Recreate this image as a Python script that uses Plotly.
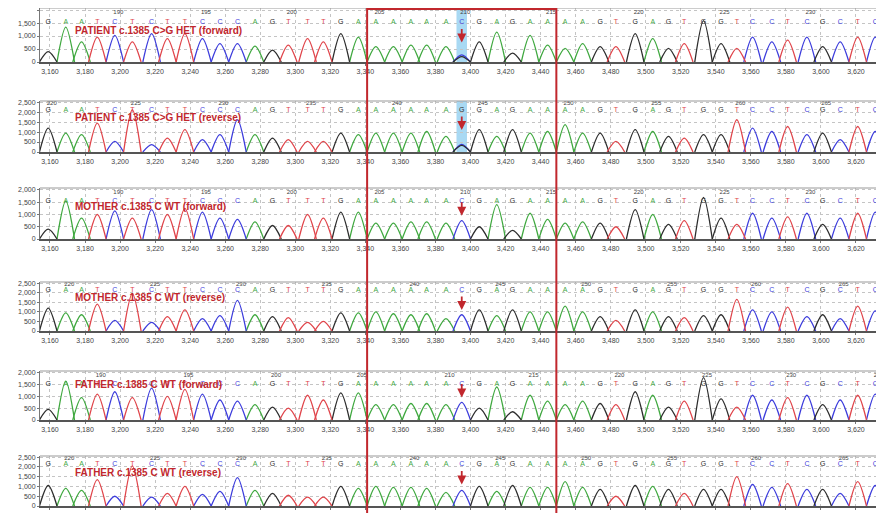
import plotly.graph_objects as go

# ---------------- data ----------------
SEQ = "GAATCTCTTCCCAGTTTGAAAAAACGAGAAAAGTGAGTGGTCCTCGCTC"
POS = [3159, 3169, 3178, 3187, 3197, 3207, 3218, 3227, 3237, 3247, 3257, 3267, 3277, 3287, 3296,
       3307, 3316, 3326, 3336, 3346, 3356, 3366, 3375, 3386, 3395, 3405, 3415, 3424, 3434, 3444,
       3454, 3464, 3474, 3483, 3494, 3504, 3513, 3522, 3533, 3543, 3552, 3561, 3572, 3581, 3592,
       3601, 3611, 3621, 3631]

PATIENT_FWD = [400, 1340, 775, 960, 1025, 775, 1090, 900, 1090, 900, 710, 710, 610, 460, 650,
               900, 775, 1090, 960, 590, 590, 650, 650, 590, 275, 775, 1150, 340, 1025, 650,
               525, 710, 590, 590, 1090, 900, 525, 710, 1590, 710, 525, 960, 775, 840, 960,
               590, 775, 960, 960]
PATIENT_REV = [1200, 950, 870, 1450, 530, 2120, 370, 700, 1120, 620, 870, 1620, 870, 700, 620,
               530, 530, 950, 870, 950, 950, 950, 1030, 780, 380, 1120, 780, 1120, 950, 1030,
               1370, 950, 950, 530, 1120, 1030, 780, 700, 870, 870, 1620, 1200, 1030, 1280, 870,
               950, 620, 1280, 1030]
MOTHER_FWD = [400, 1550, 850, 1000, 1150, 850, 1200, 1000, 1250, 1100, 850, 800, 700, 550, 550,
              1000, 850, 1100, 1100, 650, 650, 700, 700, 650, 750, 500, 1400, 350, 1050, 800,
              650, 700, 650, 500, 1200, 1000, 600, 750, 1700, 850, 600, 1050, 850, 900, 1050,
              600, 850, 1050, 1100]
MOTHER_REV = [1200, 950, 850, 1400, 550, 1950, 450, 750, 1100, 650, 800, 1600, 850, 750, 700,
              450, 500, 950, 950, 1000, 900, 850, 900, 650, 850, 1100, 800, 1100, 1000, 1000,
              1300, 1000, 750, 550, 1100, 1000, 750, 700, 800, 850, 1650, 1100, 1000, 1250, 750,
              850, 650, 1300, 1050]
FATHER_FWD = [450, 1650, 950, 1100, 1200, 950, 1350, 1000, 1300, 1100, 850, 800, 650, 550, 500,
              1050, 850, 1150, 1150, 650, 650, 700, 700, 650, 750, 500, 1400, 350, 1050, 800,
              650, 800, 700, 650, 1200, 1050, 550, 800, 1800, 900, 550, 1050, 850, 950, 1050,
              650, 850, 1050, 1100]
FATHER_REV = [1050, 900, 800, 1350, 500, 2050, 450, 650, 1000, 600, 750, 1450, 800, 650, 550,
              450, 450, 1000, 900, 1000, 950, 950, 900, 700, 800, 1000, 750, 1050, 950, 950,
              1250, 950, 850, 500, 1050, 1000, 850, 650, 850, 850, 1500, 1100, 950, 1150, 850,
              850, 650, 1250, 1050]

# heterozygous secondary G peak at the variant position (patient only)
SECOND_G = [210, 330, 0, 0, 0, 0]
VARIANT_INDEX = 24
CALL_AT_VARIANT = ["C", "G", "C", "C", "C", "C"]
FIRST_BASE_NUMBER = [186, 220, 186, 219, 187, 219]
TITLES = ["PATIENT c.1385 C>G HET (forward)", "PATIENT c.1385 C>G HET (reverse)",
          "MOTHER c.1385 C WT (forward)", "MOTHER c.1385 C WT (reverse)",
          "FATHER c.1385 C WT (forward)", "FATHER c.1385 C WT (reverse)"]
HEIGHTS = [PATIENT_FWD, PATIENT_REV, MOTHER_FWD, MOTHER_REV, FATHER_FWD, FATHER_REV]
X_TICKS = list(range(3160, 3621, 20))

# ---------------- style / layout ----------------
W, H = 884, 513
OFF = 8  # page body margin offset compensation
COLORS = {"A": "#3fa83f", "C": "#3c3cdc", "G": "#2d2d2d", "T": "#e0444a"}
RED = "#c1272d"
HALF = 5.0
PANEL_PX = [(8, 62), (101, 152), (188, 239), (282, 331), (371, 420), (456, 506)]
TITLE_PX = [31, 117, 207, 297, 384, 472]
ARROW_TIP = [750, 1100, 950, 1100, 950, 1100]
LEFT_PX = 40
XR = [3154.3, 3636 + OFF / 1.752]

fig = go.Figure()
layout = dict(width=W, height=H, margin=dict(l=0, r=0, t=0, b=0),
              paper_bgcolor="white", plot_bgcolor="white", showlegend=False,
              shapes=[], annotations=[])

def py(p):
    return 1 - (p - OFF) / H

for i in range(6):
    n = "" if i == 0 else str(i + 1)
    xa, ya = "x" + n, "y" + n
    fwd = (i % 2 == 0)
    top, bot = PANEL_PX[i]
    ymax = 2080 if fwd else 2560
    yt = [0, 500, 1000, 1500, 2000] if fwd else [0, 500, 1000, 1500, 2000, 2500]
    layout["xaxis" + n] = dict(domain=[(LEFT_PX - OFF) / W, 1], range=XR, anchor=ya,
                               tickvals=X_TICKS, ticktext=[f"{v:,}" for v in X_TICKS],
                               tickfont=dict(size=7, color="#444", family="Liberation Sans"),
                               ticks="outside", ticklen=2, tickcolor="#777",
                               showline=True, linecolor="#555", linewidth=1.6,
                               showgrid=True, gridcolor="#c4c4c4", griddash="dot", gridwidth=1,
                               zeroline=False, fixedrange=True, automargin=False)
    layout["yaxis" + n] = dict(domain=[py(bot), min(1, py(top))], range=[0, ymax], anchor=xa,
                               tickvals=yt, ticktext=[f"{v:,}" for v in yt],
                               tickfont=dict(size=7, color="#444", family="Liberation Sans"),
                               ticks="outside", ticklen=2, tickcolor="#777",
                               showline=True, linecolor="#777", linewidth=1,
                               showgrid=True, gridcolor="#c4c4c4", griddash="dot", gridwidth=1,
                               zeroline=False, fixedrange=True, automargin=False)
    layout["shapes"].append(dict(type="line", xref=xa + " domain", yref=ya + " domain",
                                 x0=0, x1=1, y0=1, y1=1, line=dict(color="#999", width=1)))
    seq = list(SEQ)
    seq[VARIANT_INDEX] = CALL_AT_VARIANT[i]
    hts = HEIGHTS[i]
    if SECOND_G[i] > 0:
        layout["shapes"].append(dict(type="rect", xref=xa, yref=ya + " domain",
                                     x0=POS[VARIANT_INDEX] - 3, x1=POS[VARIANT_INDEX] + 3,
                                     y0=0, y1=1, fillcolor="#a9d9f3", line=dict(width=0),
                                     layer="below"))
    for base in "ACGT":
        xs, ys = [], []
        for k, b in enumerate(SEQ):
            if b == base:
                xs += [POS[k] - HALF, POS[k], POS[k] + HALF, None]
                ys += [0, hts[k], 0, None]
        if base == "G" and SECOND_G[i] > 0:
            k = VARIANT_INDEX
            xs += [POS[k] - HALF, POS[k], POS[k] + HALF, None]
            ys += [0, SECOND_G[i], 0, None]
        fig.add_trace(go.Scatter(x=xs, y=ys, xaxis=xa, yaxis=ya, mode="lines",
                                 line=dict(color=COLORS[base], width=1.3, shape="spline", smoothing=0.9),
                                 hoverinfo="skip"))
    letter_y = 1530 if fwd else 2120
    fig.add_trace(go.Scatter(x=POS, y=[letter_y] * len(POS), xaxis=xa, yaxis=ya, mode="text",
                             text=seq, textfont=dict(size=7, family="Liberation Sans",
                                                     color=[COLORS[b] for b in seq]),
                             hoverinfo="skip"))
    rx, rt = [], []
    for k in range(len(SEQ)):
        num = FIRST_BASE_NUMBER[i] + k
        if num % 5 == 0:
            rx.append(POS[k] + 2)
            rt.append(str(num))
    ruler_y = 1900 if fwd else 2440
    fig.add_trace(go.Scatter(x=rx, y=[ruler_y] * len(rx), xaxis=xa, yaxis=ya, mode="text",
                             text=rt, textfont=dict(size=6, family="Liberation Sans", color="#444"),
                             hoverinfo="skip"))
    layout["annotations"].append(dict(text="<b>" + TITLES[i].replace(">", "&gt;") + "</b>",
                                      xref="paper", yref="paper", x=(73 - OFF) / W, y=py(TITLE_PX[i]),
                                      xanchor="left", yanchor="middle", showarrow=False,
                                      font=dict(size=10, color=RED, family="Liberation Sans")))
    layout["annotations"].append(dict(text="", xref=xa, yref=ya, x=POS[VARIANT_INDEX],
                                      y=ARROW_TIP[i], ax=0, ay=-15, showarrow=True,
                                      arrowhead=2, arrowsize=1, arrowwidth=1.8, arrowcolor=RED))

layout["shapes"].append(dict(type="rect", xref="x", yref="paper", x0=3341, x1=3449,
                             y0=-0.05, y1=py(9), line=dict(color=RED, width=2),
                             fillcolor="rgba(0,0,0,0)", layer="above"))

fig.update_layout(**layout)
fig.write_html("out.html")
